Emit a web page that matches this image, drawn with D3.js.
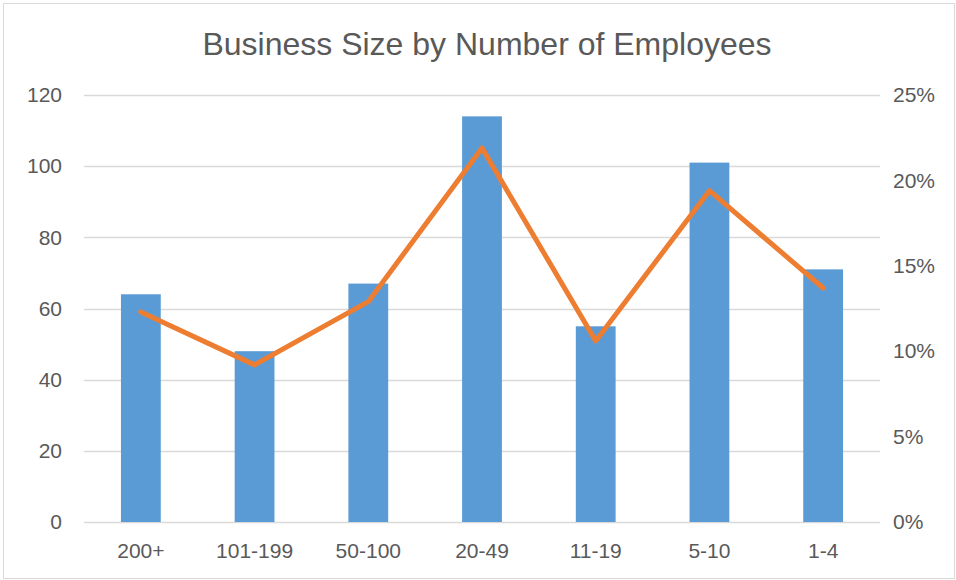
<!DOCTYPE html>
<html>
<head>
<meta charset="utf-8">
<script src="https://cdn.jsdelivr.net/npm/d3@7"></script>
<style>
  body { margin: 0; background: #fff; }
  text { font-family: "Liberation Sans", Arial, sans-serif; fill: #595959; }
</style>
</head>
<body>
<svg id="chart" width="956" height="580"></svg>
<script>
const categories = ["200+", "101-199", "50-100", "20-49", "11-19", "5-10", "1-4"];
const counts = [64, 48, 67, 114, 55, 101, 71];
const shares = [12.3, 9.2, 12.9, 21.9, 10.6, 19.4, 13.7];
const leftTicks = [0, 20, 40, 60, 80, 100, 120];
const rightTicks = [0, 5, 10, 15, 20, 25];

const svg = d3.select("#chart");
const margin = { top: 95, right: 76, bottom: 58, left: 84 };
const width = 956, height = 580;

// chart border
svg.append("rect")
  .attr("x", 3.5).attr("y", 3.5)
  .attr("width", width - 5).attr("height", height - 5)
  .attr("fill", "#fff").attr("stroke", "#d9d9d9");

const x = d3.scaleBand()
  .domain(categories)
  .range([margin.left, width - margin.right])
  .paddingInner(0.65).paddingOuter(0.325);

const y = d3.scaleLinear().domain([0, 120]).range([height - margin.bottom, margin.top]);
const y2 = d3.scaleLinear().domain([0, 25]).range([height - margin.bottom, margin.top]);

// gridlines
svg.append("g")
  .selectAll("line")
  .data(leftTicks)
  .join("line")
  .attr("x1", margin.left).attr("x2", width - margin.right)
  .attr("y1", d => Math.round(y(d)) + 0.5).attr("y2", d => Math.round(y(d)) + 0.5)
  .attr("stroke", "#d9d9d9").attr("stroke-width", 1.5);

// bars
svg.append("g")
  .selectAll("rect")
  .data(counts)
  .join("rect")
  .attr("x", (d, i) => x(categories[i]))
  .attr("y", d => y(d))
  .attr("width", x.bandwidth())
  .attr("height", d => y(0) - y(d))
  .attr("fill", "#5b9bd5");

// line
const line = d3.line()
  .x((d, i) => x(categories[i]) + x.bandwidth() / 2)
  .y(d => y2(d));

svg.append("path")
  .datum(shares)
  .attr("d", line)
  .attr("fill", "none")
  .attr("stroke", "#ed7d31")
  .attr("stroke-width", 5)
  .attr("stroke-linecap", "round")
  .attr("stroke-linejoin", "round");

// left axis
const leftAxis = svg.append("g")
  .attr("transform", `translate(${margin.left - 22},0)`)
  .call(d3.axisLeft(y).tickValues(leftTicks).tickSize(0).tickPadding(0));
leftAxis.select(".domain").remove();
leftAxis.selectAll("text").attr("font-size", 21).style("fill", "#595959");

// right axis
const rightAxis = svg.append("g")
  .attr("transform", `translate(${width - margin.right + 13},0)`)
  .call(d3.axisRight(y2).tickValues(rightTicks).tickFormat(d => d + "%").tickSize(0).tickPadding(0));
rightAxis.select(".domain").remove();
rightAxis.selectAll("text").attr("font-size", 21).style("fill", "#595959");

// bottom axis
const bottomAxis = svg.append("g")
  .attr("transform", `translate(0,${height - margin.bottom + 21})`)
  .call(d3.axisBottom(x).tickSize(0).tickPadding(0));
bottomAxis.select(".domain").remove();
bottomAxis.selectAll("text").attr("font-size", 21).style("fill", "#595959");

// title
svg.append("text")
  .attr("x", 487).attr("y", 55)
  .attr("text-anchor", "middle")
  .attr("font-size", 32)
  .text("Business Size by Number of Employees");
</script>
</body>
</html>
